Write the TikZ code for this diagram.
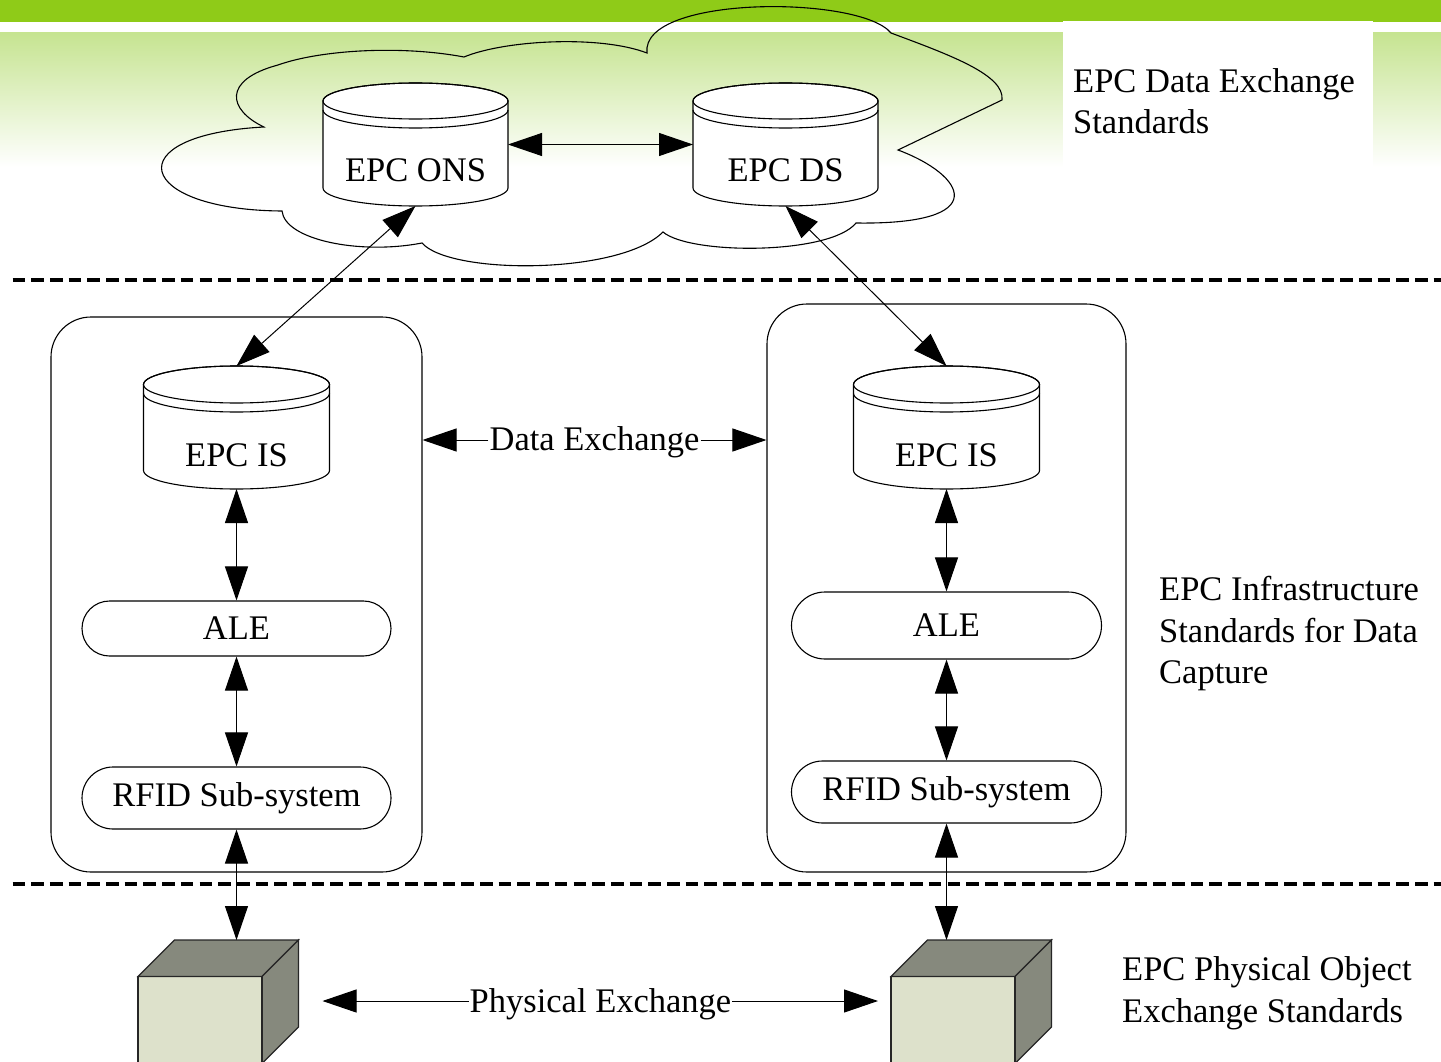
\documentclass[tikz,border=0pt]{standalone}
\usepackage{fontspec}
\setmainfont{Liberation Serif}
\usetikzlibrary{arrows.meta,shapes.misc}
\definecolor{bandgreen}{RGB}{143,203,24}
\definecolor{gradgreen}{RGB}{198,228,145}
\definecolor{cubefront}{RGB}{221,225,203}
\definecolor{cubeside}{RGB}{134,137,125}
\newcommand\epcdb[8]{% name, cx, ty, by, rx, ry, text, text baseline offset
  \path[dbshape] (#2-#5,#3) -- (#2-#5,#4) arc[start angle=180,end angle=0,x radius=#5,y radius=#6]
     -- (#2+#5,#3) arc[start angle=0,end angle=-180,x radius=#5,y radius=#6] -- cycle;
  \draw[dbline] (#2,#3) ellipse[x radius=#5,y radius=#6];
  \draw[dbline] (#2-#5,#3+9) arc[start angle=180,end angle=0,x radius=#5,y radius=#6];
  \node[ghost, minimum width=2*#5 pt, minimum height=#4-#3+2*#6 pt] (#1) at (#2,{(#3+#4)/2}) {};
  \node[txt, anchor=base] (#1-t) at (#2,#4-#8) {#7};
}
\newcommand\epccube[4]{% name, front x, front top y, depth
  \fill[cubefront] (#2,#3) rectangle (#2+124,#3+100);
  \filldraw[cubeline, fill=cubeside] (#2,#3) -- (#2+#4,#3-#4) -- (#2+124+#4,#3-#4) -- (#2+124,#3) -- cycle;
  \filldraw[cubeline, fill=cubeside] (#2+124,#3) -- (#2+124+#4,#3-#4) -- (#2+124+#4,#3-#4+87) -- (#2+124,#3+87) -- cycle;
  \draw[cubeline] (#2,#3+100) -- (#2,#3) -- (#2+124,#3) -- (#2+124,#3+100);
  \node[ghost, minimum width=124pt+#4 pt, minimum height=100pt+#4 pt] (#1) at (#2+62+#4/2,{#3-#4/2+50}) {};
}
\begin{document}
\begin{tikzpicture}[x=1pt,y=-1pt,
  txt/.style={font=\fontsize{34.5pt}{41.5pt}\selectfont, inner sep=1pt},
  lbl/.style={font=\fontsize{34.5pt}{41.5pt}\selectfont, inner sep=0pt, align=left},
  ghost/.style={draw=none, fill=none, inner sep=0pt, outer sep=0pt, rectangle},
  dbshape/.style={draw, fill=white, line width=1.1pt},
  dbline/.style={draw, line width=1.1pt},
  cubeline/.style={draw=black!85, line width=1.1pt},
  container/.style={draw, rectangle, rounded corners=40pt, line width=1.1pt, inner sep=0pt},
  pill/.style={draw, rounded rectangle, line width=1.1pt, minimum width=309pt, inner sep=0pt, font=\fontsize{34.5pt}{41.5pt}\selectfont},
  sep/.style={line width=3.6pt, dash pattern=on 12.6pt off 6.1pt},
  tip/.tip={Triangle[length=34pt,width=23pt]},
  darr/.style={tip-tip, line width=1pt},
  arr/.style={-tip, line width=1pt},
  cloudline/.style={draw, line width=1.1pt}
]
\useasboundingbox (0,0) rectangle (1441,1062);
\clip (0,0) rectangle (1441,1062);
% background
\fill[white] (0,0) rectangle (1441,1062);
\fill[bandgreen] (0,0) rectangle (1441,22);
\shade[top color=gradgreen, bottom color=white] (0,33) rectangle (1441,167);
\fill[white] (1063,21) rectangle (1373,175);
% cloud
\path[cloudline] (264,127)
  .. controls (228,110) and (222,80) .. (278,65)
  .. controls (320,50) and (400,45) .. (464,57)
  .. controls (505,40) and (600,35) .. (647,53)
  .. controls (640,-5) and (860,-5) .. (891,33)
  .. controls (950,55) and (1005,75) .. (1002,100)
  -- (898,150)
  .. controls (965,175) and (995,225) .. (856,223)
  .. controls (830,255) and (690,255) .. (663,232)
  .. controls (620,275) and (450,275) .. (422,243)
  .. controls (360,255) and (285,240) .. (282,211)
  .. controls (135,210) and (115,135) .. (264,127) -- cycle;
% separators
\draw[sep] (12.5,280) -- (1441,280);
\draw[sep] (12.5,884) -- (1441,884);
% containers
\node[container, minimum width=371pt, minimum height=555pt] (contL) at (236.5,594.5) {};
\node[container, minimum width=359pt, minimum height=568pt] (contR) at (946.5,588) {};
% databases
\epcdb{ons}{415.5}{101}{188}{92.5}{18}{EPC ONS}{6}
\epcdb{ds}{785.5}{101}{188}{92.5}{18}{EPC DS}{6}
\epcdb{isl}{236.5}{384.5}{470.5}{93}{18.5}{EPC IS}{4}
\epcdb{isr}{946.5}{384.5}{470.5}{93}{18.5}{EPC IS}{4}
% ALE / RFID
\node[pill, minimum height=55pt] (aleL) at (236.5,628.5) {ALE};
\node[pill, minimum height=62pt] (rfidL) at (236.5,798) {RFID Sub-system};
\node[pill, minimum height=67pt, minimum width=310pt] (aleR) at (946.5,625.5) {ALE};
\node[pill, minimum height=62pt, minimum width=310pt] (rfidR) at (946.5,792) {RFID Sub-system};
% cubes
\epccube{cubeL}{138}{976.5}{36.5}
\epccube{cubeR}{891}{976.5}{36.5}
% connectors
\draw[darr] (ons.east) -- (ds.west);
\draw[darr] (ons.south) -- (isl.north);
\draw[darr] (ds.south) -- (isr.north);
\draw[darr] (isl.south) -- (aleL.north);
\draw[darr] (aleL.south) -- (rfidL.north);
\draw[darr] (rfidL.south) -- (rfidL.south |- cubeL.north);
\draw[darr] (isr.south) -- (aleR.north);
\draw[darr] (aleR.south) -- (rfidR.north);
\draw[darr] (rfidR.south) -- (rfidR.south |- cubeR.north);
\node[txt, text height=23.5pt, text depth=3.5pt] (dex) at (594.5,440) {Data Exchange};
\draw[arr] (dex.west) -- (dex.west -| contL.east);
\draw[arr] (dex.east) -- (dex.east -| contR.west);
\node[txt, text height=23.5pt, text depth=1.5pt] (pex) at (600.5,1001) {Physical Exchange};
\draw[arr] (pex.west) -- ([xshift=24pt]pex.west -| cubeL.east);
\draw[arr] (pex.east) -- ([xshift=-13pt]pex.east -| cubeR.west);
% labels
\node[lbl, anchor=north west] (lblA) at (1073,68) {EPC Data Exchange\\Standards};
\node[lbl, anchor=north west] (lblB) at (1159,576.5) {EPC Infrastructure\\Standards for Data\\Capture};
\node[lbl, anchor=north west] (lblC) at (1122,956.5) {EPC Physical Object\\Exchange Standards};
\end{tikzpicture}
\end{document}
